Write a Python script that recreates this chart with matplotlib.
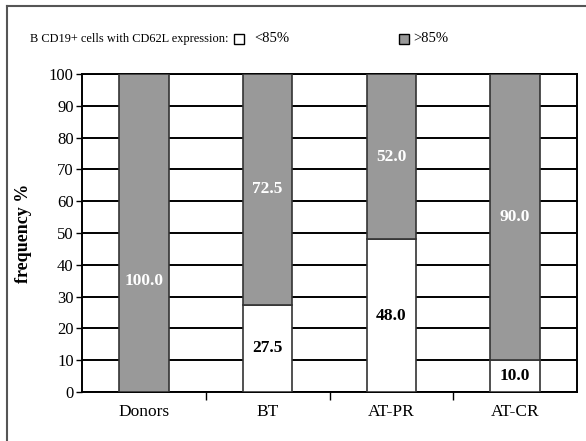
import matplotlib
matplotlib.use("Agg")
import matplotlib.pyplot as plt
from matplotlib.patches import Rectangle
from matplotlib.lines import Line2D

categories = ["Donors", "BT", "AT-PR", "AT-CR"]
low_vals = [0.0, 27.5, 48.0, 10.0]     # <85%
high_vals = [100.0, 72.5, 52.0, 90.0]  # >85%
yticks = [0, 10, 20, 30, 40, 50, 60, 70, 80, 90, 100]

plt.rcParams['font.family'] = ['Liberation Serif', 'DejaVu Serif']

W, H = 586, 441
fig = plt.figure(figsize=(W / 100, H / 100), dpi=100)
ax = fig.add_axes([82 / W, 1 - 392 / H, (577 - 82) / W, (392 - 74) / H])

gray = '#999999'
edge = '#333333'
x = list(range(len(categories)))
bw = 0.4
ax.bar(x, low_vals, width=bw, color='white', edgecolor=edge, linewidth=1.2, zorder=3)
ax.bar(x, high_vals, width=bw, bottom=low_vals, color=gray, edgecolor=edge, linewidth=1.2, zorder=3)

ax.set_xlim(-0.5, len(categories) - 0.5)
ax.set_ylim(0, 100)
ax.set_yticks(yticks)
ax.set_yticklabels([str(v) for v in yticks], fontsize=12)
ax.yaxis.grid(True, color='black', linewidth=1.4, zorder=1)
ax.set_axisbelow(True)

ax.set_xticks([i + 0.5 for i in range(len(categories) - 1)])
ax.set_xticklabels([])
ax.set_xticks(x, minor=True)
ax.set_xticklabels(categories, minor=True, fontsize=12.5)
ax.tick_params(axis='x', which='major', direction='out', length=6, width=1)
ax.tick_params(axis='x', which='minor', length=0, pad=9)
ax.tick_params(axis='y', direction='out', length=4, width=1, pad=2)
for s in ax.spines.values():
    s.set_color('black')
    s.set_linewidth(1.4)

ax.set_ylabel('frequency %', fontsize=13, fontweight='bold', labelpad=12)

label_offset = {0: -15.0}
for i in x:
    if low_vals[i] > 0:
        ax.text(i, low_vals[i] / 2, f"{low_vals[i]:.1f}", ha='center', va='center',
                color='black', fontweight='bold', fontsize=12.5, zorder=5)
    yc = low_vals[i] + high_vals[i] / 2 + label_offset.get(i, 0.0)
    ax.text(i, yc, f"{high_vals[i]:.1f}", ha='center', va='center',
            color='white', fontweight='bold', fontsize=12.5, zorder=5)

# legend-like header
fig.text(30 / W, 1 - 39 / H, 'B CD19+ cells with CD62L expression:', fontsize=8.9,
         ha='left', va='center')
fig.patches.append(Rectangle((234 / W, 1 - 44 / H), 10 / W, 10 / H, transform=fig.transFigure,
                             facecolor='white', edgecolor='black', linewidth=1))
fig.text(254 / W, 1 - 39 / H, '<85%', fontsize=10.5, ha='left', va='center')
fig.patches.append(Rectangle((399 / W, 1 - 44 / H), 10 / W, 10 / H, transform=fig.transFigure,
                             facecolor=gray, edgecolor='black', linewidth=1))
fig.text(413 / W, 1 - 39 / H, '>85%', fontsize=10.5, ha='left', va='center')

# outer frame (left and top edges)
fig.lines.append(Line2D([6.5 / W, 6.5 / W], [0, 1 - 5.5 / H], transform=fig.transFigure,
                        color='#555555', linewidth=1.5))
fig.lines.append(Line2D([6.5 / W, 1], [1 - 5.5 / H, 1 - 5.5 / H], transform=fig.transFigure,
                        color='#555555', linewidth=1.5))

fig.savefig('out.png', dpi=100)
